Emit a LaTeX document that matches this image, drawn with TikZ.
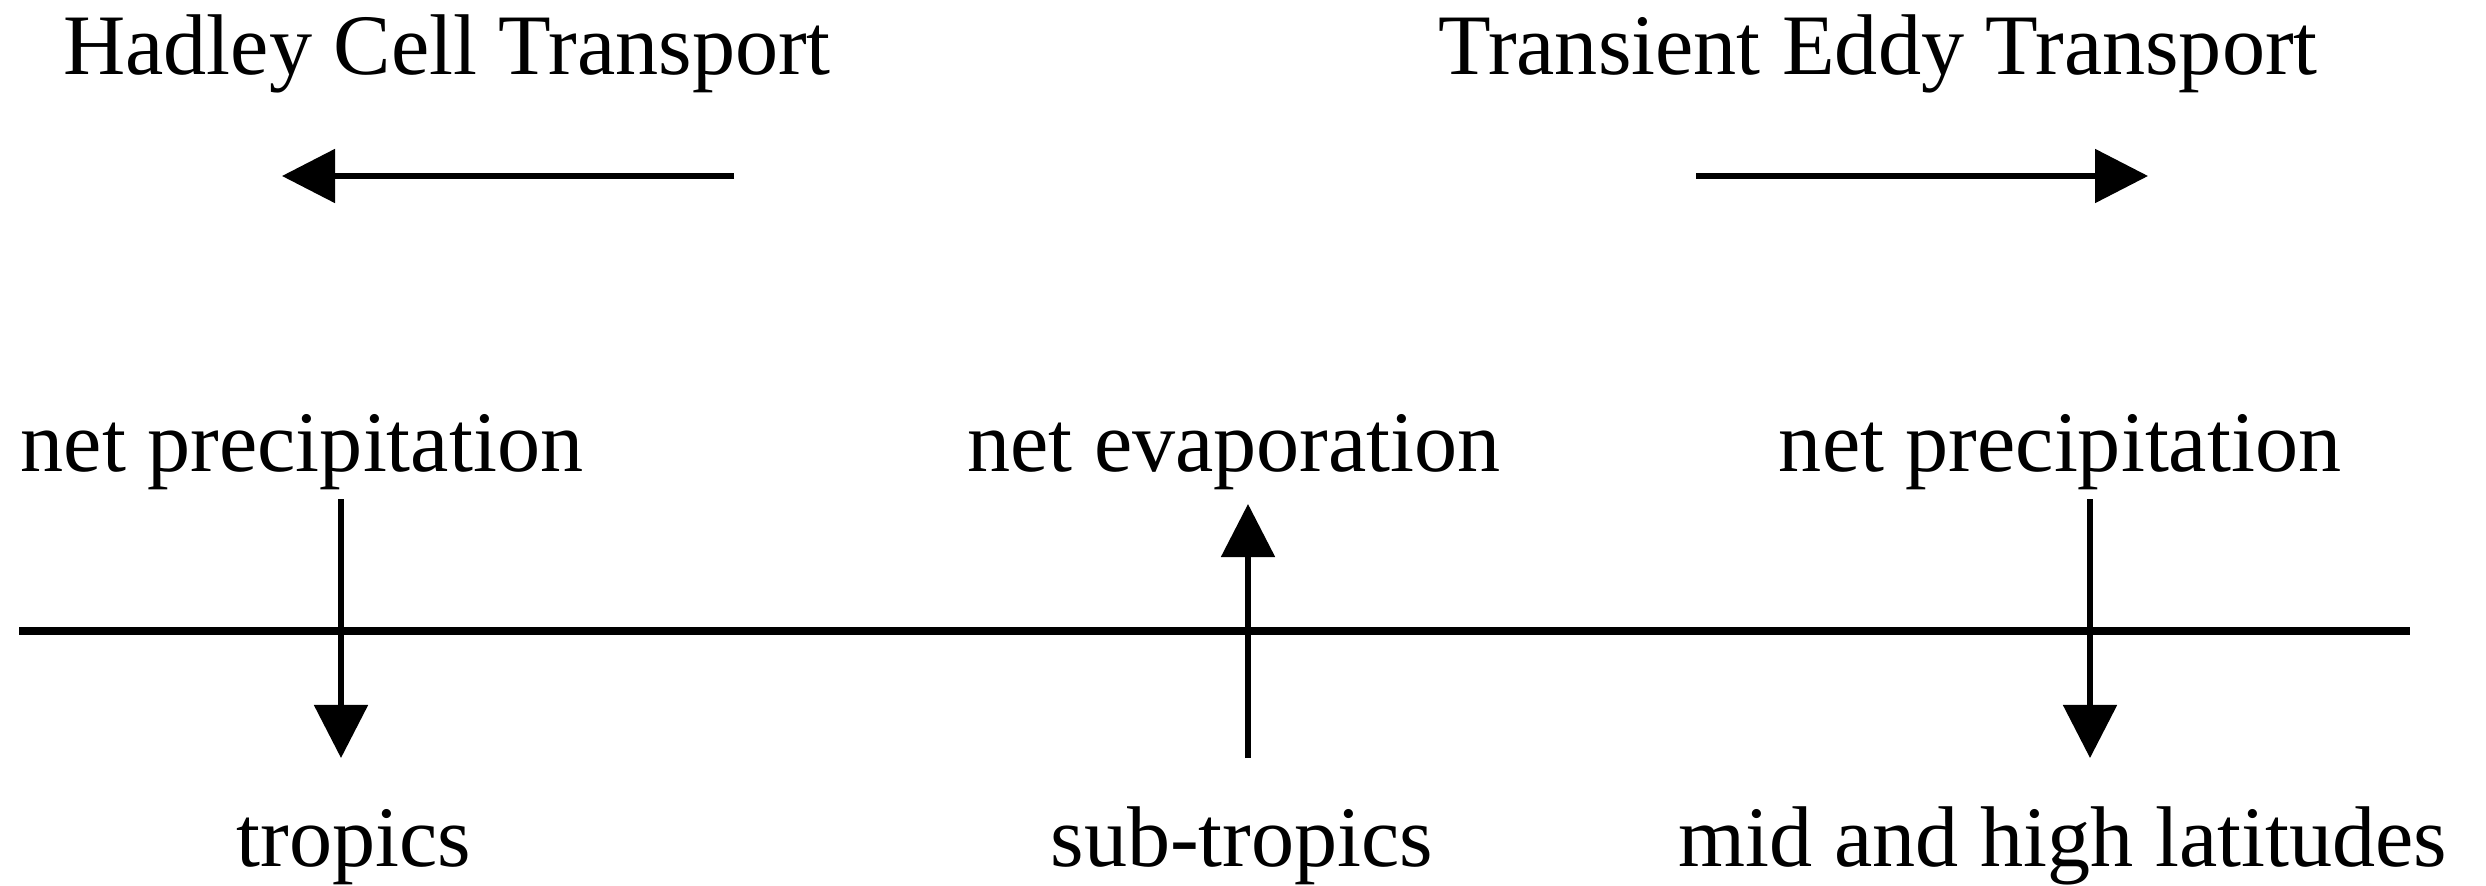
\documentclass[tikz,border=0pt]{standalone}
\usepackage{fontspec}
\setmainfont{Liberation Serif}
\usetikzlibrary{arrows.meta}
\begin{document}
\begin{tikzpicture}[x=0.01cm,y=-0.01cm,
  lbl/.style={anchor=base,inner sep=0pt,font=\fontsize{24.5pt}{29pt}\selectfont},
  flow/.style={line width=1.5pt,-{Triangle[length=0.53cm,width=0.53cm]}},
  axisline/.style={line width=2.2pt}]
\useasboundingbox (0,0) rectangle (2486,885);
% titles
\node[lbl] (hadley) at (447,75) {Hadley Cell Transport};
\node[lbl] (eddy) at (1878,75) {Transient Eddy Transport};
% horizontal transport arrows
\coordinate (hs) at (734,176);
\coordinate (he) at (282,176);
\coordinate (es) at (1696,176);
\coordinate (ee) at (2148,176);
\draw[flow] (hs) -- (he);
\draw[flow] (es) -- (ee);
% labels above axis
\node[lbl] (np1) at (302,471) {net precipitation};
\node[lbl] (ne) at (1234,471) {net evaporation};
\node[lbl] (np2) at (2060,471) {net precipitation};
% axis
\coordinate (axl) at (19,631);
\coordinate (axr) at (2410,631);
\draw[axisline] (axl) -- (axr);
% labels below axis
\node[lbl] (trop) at (354,866) {tropics};
\node[lbl] (sub) at (1242,866) {sub-tropics};
\node[lbl] (mid) at (2063,866) {mid and high latitudes};
% vertical arrows
\coordinate (v1s) at (341,499);
\coordinate (v1e) at (341,758);
\coordinate (v2s) at (1248,758);
\coordinate (v2e) at (1248,504);
\coordinate (v3s) at (2090,499);
\coordinate (v3e) at (2090,758);
\draw[flow] (v1s) -- (v1e);
\draw[flow] (v2s) -- (v2e);
\draw[flow] (v3s) -- (v3e);
\end{tikzpicture}
\end{document}
